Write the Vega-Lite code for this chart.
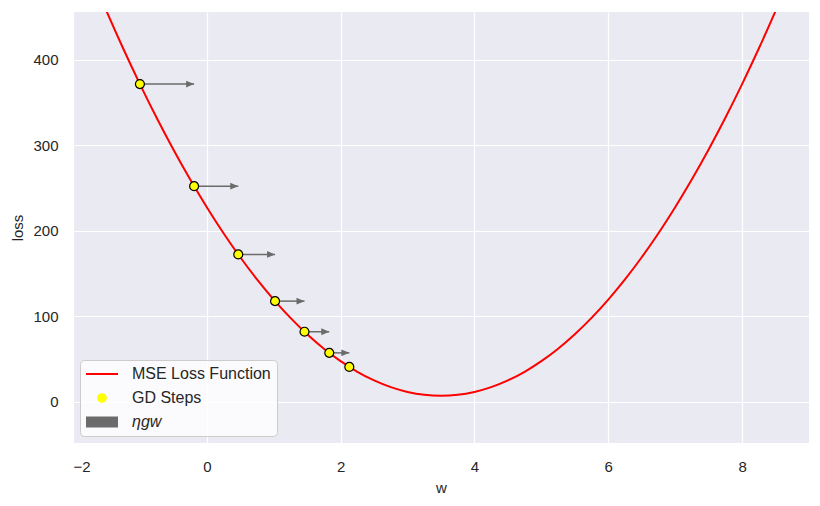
{
  "$schema": "https://vega.github.io/schema/vega-lite/v6.json",
  "width": 736,
  "height": 431,
  "autosize": {"type": "none"},
  "padding": {"left": 73, "top": 12, "right": 11, "bottom": 63},
  "background": "white",
  "config": {
    "font": "Liberation Sans",
    "view": {"fill": "#EAEAF2", "stroke": null},
    "axis": {
      "grid": true, "gridColor": "white", "gridWidth": 1.2,
      "domain": false, "ticks": false,
      "labelFontSize": 15, "labelColor": "#262626",
      "titleFontSize": 15, "titleColor": "#262626", "titleFontWeight": "normal"
    }
  },
  "datasets": {
    "curve": [
      {"w": -2, "loss": 551.7}, {"w": -1.75, "loss": 503.3}, {"w": -1.5, "loss": 457.2}, {"w": -1.25, "loss": 413.3},
      {"w": -1, "loss": 371.7}, {"w": -0.75, "loss": 332.3}, {"w": -0.5, "loss": 295.2}, {"w": -0.25, "loss": 260.3},
      {"w": 0, "loss": 227.7}, {"w": 0.25, "loss": 197.3}, {"w": 0.5, "loss": 169.2}, {"w": 0.75, "loss": 143.3},
      {"w": 1, "loss": 119.7}, {"w": 1.25, "loss": 98.3}, {"w": 1.5, "loss": 79.2}, {"w": 1.75, "loss": 62.3},
      {"w": 2, "loss": 47.7}, {"w": 2.25, "loss": 35.3}, {"w": 2.5, "loss": 25.2}, {"w": 2.75, "loss": 17.3},
      {"w": 3, "loss": 11.7}, {"w": 3.25, "loss": 8.3}, {"w": 3.5, "loss": 7.2}, {"w": 3.75, "loss": 8.3},
      {"w": 4, "loss": 11.7}, {"w": 4.25, "loss": 17.3}, {"w": 4.5, "loss": 25.2}, {"w": 4.75, "loss": 35.3},
      {"w": 5, "loss": 47.7}, {"w": 5.25, "loss": 62.3}, {"w": 5.5, "loss": 79.2}, {"w": 5.75, "loss": 98.3},
      {"w": 6, "loss": 119.7}, {"w": 6.25, "loss": 143.3}, {"w": 6.5, "loss": 169.2}, {"w": 6.75, "loss": 197.3},
      {"w": 7, "loss": 227.7}, {"w": 7.25, "loss": 260.3}, {"w": 7.5, "loss": 295.2}, {"w": 7.75, "loss": 332.3},
      {"w": 8, "loss": 371.7}, {"w": 8.25, "loss": 413.3}, {"w": 8.5, "loss": 457.2}, {"w": 8.75, "loss": 503.3},
      {"w": 9, "loss": 551.7}
    ],
    "steps": [
      {"w": -1, "loss": 371.7, "wnext": -0.19},
      {"w": -0.19, "loss": 252.3, "wnext": 0.47},
      {"w": 0.47, "loss": 172.5, "wnext": 1.02},
      {"w": 1.02, "loss": 117.9, "wnext": 1.46},
      {"w": 1.46, "loss": 82.1, "wnext": 1.83},
      {"w": 1.83, "loss": 57.4, "wnext": 2.13},
      {"w": 2.13, "loss": 41.0, "wnext": null}
    ]
  },
  "layer": [
    {
      "data": {"name": "curve"},
      "mark": {"type": "line", "strokeWidth": 2, "clip": true, "interpolate": "monotone"},
      "encoding": {
        "x": {
          "field": "w", "type": "quantitative",
          "scale": {"domain": [-2, 9], "nice": false, "zero": false},
          "axis": {"values": [-2, 0, 2, 4, 6, 8], "format": "d", "title": "w", "labelPadding": 16, "titlePadding": 6}
        },
        "y": {
          "field": "loss", "type": "quantitative",
          "scale": {"domain": [-48, 456], "nice": false, "zero": false},
          "axis": {"values": [0, 100, 200, 300, 400], "format": "d", "title": "loss", "labelPadding": 15, "titlePadding": 7}
        },
        "color": {
          "datum": "MSE Loss Function", "type": "nominal",
          "scale": {"domain": ["MSE Loss Function", "GD Steps", "ηgw"], "range": ["red", "yellow", "#6b6b6b"]},
          "legend": {
            "title": null,
            "orient": "bottom-left",
            "offset": 7,
            "padding": 6,
            "fillColor": "rgba(255,255,255,0.8)",
            "strokeColor": "#cccccc",
            "cornerRadius": 4,
            "labelFont": "Liberation Sans",
            "labelFontSize": 16,
            "labelColor": "#262626",
            "symbolSize": 100,
            "symbolOffset": 8,
            "labelOffset": 22,
            "rowPadding": 8,
            "encode": {
              "symbols": {
                "update": {
                  "shape": {"signal": "datum.index === 0 ? 'M-3.2,0L3.2,0' : datum.index === 1 ? 'M-0.85,0A0.85,0.85 0 1,0 0.85,0A0.85,0.85 0 1,0 -0.85,0Z' : 'M-3.2,-1.1L3.2,-1.1L3.2,1.1L-3.2,1.1Z'"},
                  "strokeWidth": {"signal": "datum.index === 0 ? 2 : datum.index === 1 ? 1.2 : 0"},
                  "opacity": {"value": 1},
                  "fillOpacity": {"value": 1},
                  "strokeOpacity": {"value": 1}
                }
              },
              "labels": {
                "update": {"fontStyle": {"signal": "datum.index === 2 ? 'italic' : 'normal'"}}
              }
            }
          }
        }
      }
    },
    {
      "data": {"name": "steps"},
      "transform": [{"filter": "isValid(datum.wnext)"}],
      "mark": {"type": "rule", "strokeWidth": 1.5},
      "encoding": {
        "x": {"field": "w", "type": "quantitative"},
        "x2": {"field": "wnext"},
        "y": {"field": "loss", "type": "quantitative"},
        "color": {"datum": "ηgw", "type": "nominal"}
      }
    },
    {
      "data": {"name": "steps"},
      "transform": [{"filter": "isValid(datum.wnext)"}],
      "mark": {"type": "point", "shape": "M0,0L-2,-0.85L-2,0.85Z", "size": 64, "filled": true, "opacity": 1, "strokeWidth": 0},
      "encoding": {
        "x": {"field": "wnext", "type": "quantitative"},
        "y": {"field": "loss", "type": "quantitative"},
        "color": {"datum": "ηgw", "type": "nominal"}
      }
    },
    {
      "data": {"name": "steps"},
      "mark": {"type": "point", "shape": "circle", "size": 80, "filled": true, "opacity": 1, "stroke": "black", "strokeWidth": 1.2},
      "encoding": {
        "x": {"field": "w", "type": "quantitative"},
        "y": {"field": "loss", "type": "quantitative"},
        "color": {"datum": "GD Steps", "type": "nominal"}
      }
    }
  ]
}
